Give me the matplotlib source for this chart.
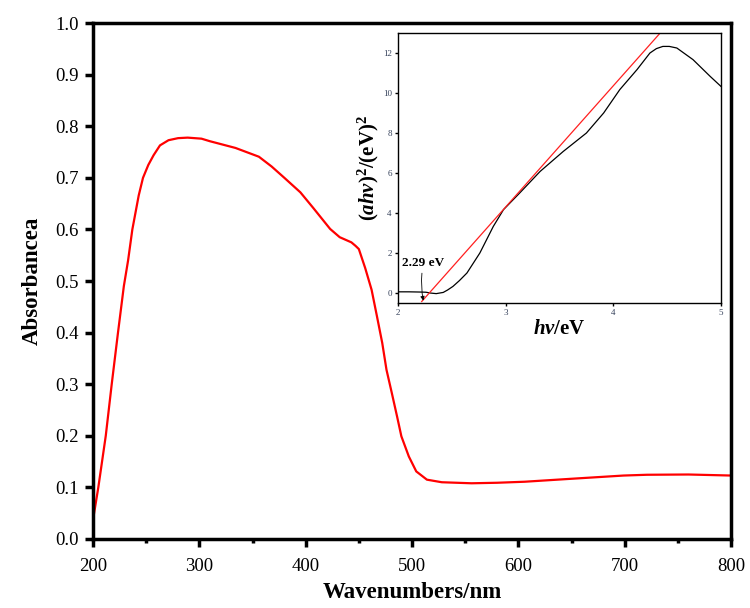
import matplotlib
matplotlib.use("Agg")
import matplotlib.pyplot as plt
from matplotlib.ticker import MultipleLocator

plt.rcParams['font.family'] = ['Liberation Serif', 'DejaVu Serif']
plt.rcParams['mathtext.fontset'] = 'custom'
plt.rcParams['mathtext.rm'] = 'Liberation Serif:bold'
plt.rcParams['mathtext.it'] = 'Liberation Serif:italic:bold'
plt.rcParams['mathtext.bf'] = 'Liberation Serif:bold'

# main spectrum
wavelength = [200, 205, 212, 217.6, 223.5, 229, 233, 237, 243, 247, 252, 257, 263, 271, 280,
              289, 302, 310, 334, 356, 368, 380, 395, 407, 423, 432, 443, 447, 450,
              456, 462, 467, 472, 476, 481, 486, 490, 497, 504, 514, 528, 556, 580,
              606, 652, 699, 721, 760, 800]
absorbance = [0.037, 0.10, 0.20, 0.30, 0.40, 0.49, 0.54, 0.60, 0.666, 0.70, 0.725, 0.744, 0.763,
              0.773, 0.777, 0.778, 0.776, 0.771, 0.758, 0.741, 0.722, 0.700, 0.672,
              0.642, 0.601, 0.585, 0.575, 0.568, 0.562, 0.525, 0.483, 0.432, 0.38,
              0.328, 0.283, 0.237, 0.199, 0.16, 0.131, 0.115, 0.110, 0.108, 0.109,
              0.111, 0.117, 0.123, 0.1245, 0.125, 0.123]

# inset Tauc plot
photon_ev = [2.0, 2.1, 2.2, 2.26, 2.3, 2.355, 2.42, 2.46, 2.51, 2.57, 2.64, 2.76, 2.885, 2.98, 3.13,
             3.32, 3.535, 3.75, 3.91, 4.06, 4.22, 4.34, 4.40, 4.46, 4.52, 4.59, 4.74, 4.90, 5.0]
tauc = [0.06, 0.06, 0.05, 0.04, 0.0, -0.03, 0.03, 0.15, 0.33, 0.62, 1.0, 2.0, 3.33, 4.17, 5.0,
        6.08, 7.08, 8.0, 9.0, 10.17, 11.17, 12.0, 12.22, 12.33, 12.33, 12.25, 11.67, 10.83, 10.33]
band_gap = 2.29
fit_slope = 6.06
fit_x = [2.22, 4.435]
fit_y = [fit_slope * (x - band_gap) for x in fit_x]

fig = plt.figure(figsize=(7.5, 6.08), dpi=100)
ax = fig.add_axes([0.124, 0.1135, 0.8507, 0.8485])
ax.plot(wavelength, absorbance, color='#ff0000', lw=1.6)
ax.set_xlim(200, 800)
ax.set_ylim(0, 1.0)
ax.xaxis.set_major_locator(MultipleLocator(100))
ax.xaxis.set_minor_locator(MultipleLocator(50))
ax.set_yticks([i / 10 for i in range(11)])
ax.set_yticklabels([f"{i/10:.1f}" for i in range(11)])
for s in ax.spines.values():
    s.set_linewidth(2.5)
ax.tick_params(axis='both', which='major', direction='out', length=6, width=2.5,
               labelsize=13.5)
ax.tick_params(axis='x', which='major', pad=8)
ax.tick_params(axis='y', which='major', pad=4)
ax.tick_params(axis='x', which='minor', direction='out', length=3, width=2.5)
ax.set_xlabel('Wavenumbers/nm', fontsize=16.5, fontweight='bold', labelpad=5)
ax.set_ylabel('Absorbancea', fontsize=16.5, fontweight='bold', labelpad=9)

# inset
axi = fig.add_axes([0.5307, 0.5016, 0.4306, 0.4441])
axi.plot(photon_ev, tauc, color='black', lw=0.9)
axi.plot(fit_x, fit_y, color='#ff2020', lw=0.9)
axi.set_xlim(2, 5)
axi.set_ylim(-0.5, 13)
axi.set_xticks([2, 3, 4, 5])
axi.set_yticks([0, 2, 4, 6, 8, 10, 12])
for s in axi.spines.values():
    s.set_linewidth(1.0)
axi.tick_params(axis='both', direction='out', length=2.5, width=1.0, labelsize=6.5,
                labelcolor='#34405a', pad=2)
axi.set_xlabel(r'$hv$/eV', fontsize=15, fontweight='bold', labelpad=1)
axi.set_ylabel(r'$(ahv)^{2}/(\mathrm{eV})^{2}$', fontsize=15, labelpad=1)
axi.annotate('2.29 eV', xy=(2.235, -0.38), xytext=(2.04, 1.35), fontsize=9.5,
             fontweight='bold',
             arrowprops=dict(arrowstyle='-|>', color='black', lw=0.6,
                             mutation_scale=6, shrinkA=1, shrinkB=0,
                             connectionstyle='arc3,rad=0.1'))

fig.savefig('out.png', dpi=100)
